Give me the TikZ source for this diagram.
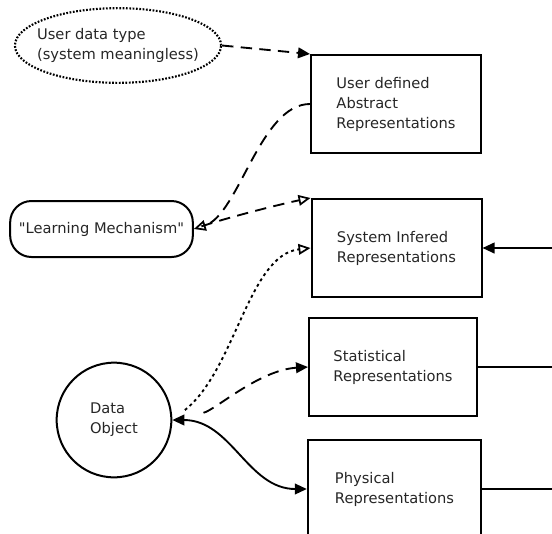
\documentclass[tikz,border=0pt]{standalone}
\usepackage{fontspec}
\newfontfamily\dejavu{DejaVu Sans}
\usepackage{tikz}
\usetikzlibrary{positioning}
\usetikzlibrary{arrows.meta,shapes.geometric}

\begin{document}
\begin{tikzpicture}[x=0.75pt, y=-0.75pt,
  every node/.style={font=\dejavu\fontsize{11pt}{15pt}\selectfont, text=black!85, align=left, inner sep=0pt},
  repbox/.style={draw, line width=1.5pt, minimum height=73.5pt},
  conn/.style={line width=1.4pt},
  fullhead/.style={-{Triangle[length=9pt,width=8pt]}},
  openhead/.style={-{Triangle[open,length=9pt,width=8pt,line width=1.3pt]}},
  longdash/.style={dash pattern=on 8.5pt off 5.5pt},
  smalldots/.style={dash pattern=on 2.2pt off 2.5pt}]
 \useasboundingbox (0,0) rectangle (552,533);
 \clip (0,0) rectangle (552,533);

 %user data
 \node[draw, ellipse, line width=1.6pt, dash pattern=on 1.3pt off 1.2pt,
   inner xsep=-6pt, minimum height=56pt] (ell) at (118,45.5) {User data type\\(system meaningless)};

 %learning
 \node[draw, rounded corners=16pt, line width=1.5pt, minimum width=137pt, minimum height=42pt] (lm) at (101.5,229) {"Learning Mechanism"};

 %data object
 \node[draw, circle, line width=1.5pt, minimum size=86pt] (dobj) at (114,420) {Data\\Object};

 %representations
 \node[repbox, minimum width=127.5pt] (box1) at (396,104) {User defined\\Abstract\\Representations};
 \node[repbox, minimum width=127.5pt] (box2) at (396.5,248) {System Infered\\Representations};
 \node[repbox, minimum width=126pt] (box3) at (393,367) {Statistical\\Representations};
 \node[repbox, minimum width=130pt] (box4) at (394.5,489) {Physical\\Representations};

 %right side
 \coordinate (r2) at (553,248);
 \coordinate (r3) at (553,367);
 \coordinate (r4) at (553,489);

 %lines
 \path[draw, conn, longdash, fullhead] (ell.east) -- (box1.north west);
 \path[draw, conn, longdash, openhead] (box1.west) .. controls +(-50,0) and +(45,-14) .. (lm.east);
 \path[draw, conn, longdash, openhead, shorten <=6pt] (lm.east) .. controls +(35,-12) and +(-25,5) .. (box2.north west);
 \path[draw, conn, smalldots, openhead, shorten <=12pt] (dobj.east) .. controls +(63,-50) and +(-62,7) .. (box2.west);
 \path[draw, conn, longdash, fullhead, shorten <=24pt] (dobj.east) .. controls +(43,-10) and +(-49,3) .. (box3.west);
 \path[draw, conn, {Triangle[length=9pt,width=8pt]}-{Triangle[length=9pt,width=8pt]}] (dobj.east) to[out=0, in=180] (box4.west);

 \path[draw, conn, fullhead] (r2) -- (box2.east);
 \path[draw, conn] (box3.east) -- (r3);
 \path[draw, conn] (box4.east) -- (r4);

\end{tikzpicture}
\end{document}
